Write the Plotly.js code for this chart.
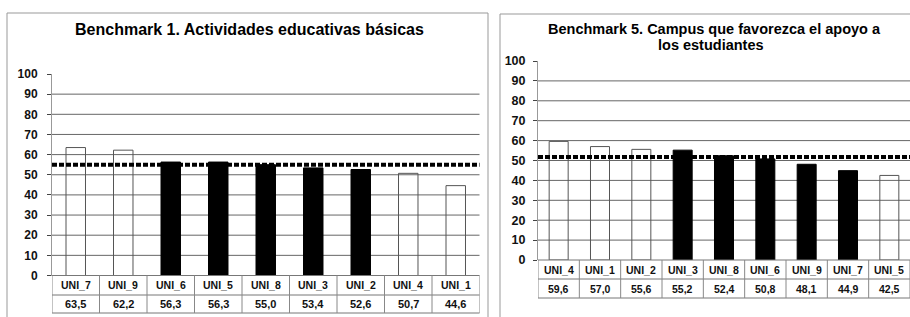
<!DOCTYPE html>
<html>
<head>
<meta charset="utf-8">
<script src="https://cdn.plot.ly/plotly-3.0.1.min.js"></script>
<style>html,body{margin:0;padding:0;background:#fff;} #chart{width:910px;height:317px;}</style>
</head>
<body>
<div id="chart"></div>
<script>
// ---- data ----
const leftTitle = 'Benchmark 1. Actividades educativas básicas';
const leftCategories = ['UNI_7','UNI_9','UNI_6','UNI_5','UNI_8','UNI_3','UNI_2','UNI_4','UNI_1'];
const leftValues = [63.5, 62.2, 56.3, 56.3, 55.0, 53.4, 52.6, 50.7, 44.6];
const leftHighlighted = ['UNI_6','UNI_5','UNI_8','UNI_3','UNI_2'];
const leftReference = 55.0;

const rightTitleLines = ['Benchmark 5. Campus que favorezca el apoyo a', 'los estudiantes'];
const rightCategories = ['UNI_4','UNI_1','UNI_2','UNI_3','UNI_8','UNI_6','UNI_9','UNI_7','UNI_5'];
const rightValues = [59.6, 57.0, 55.6, 55.2, 52.4, 50.8, 48.1, 44.9, 42.5];
const rightHighlighted = ['UNI_3','UNI_8','UNI_6','UNI_9','UNI_7'];
const rightReference = 51.8;

const yTicks = [0,10,20,30,40,50,60,70,80,90,100];
const gridValues = [10,20,30,40,50,60,70,80,90];

// ---- layout helpers ----
const W = 910, H = 317;
const px = x => x / W;
const py = y => 1 - y / H;
const FONT = 'Liberation Sans, Arial, sans-serif';
const fmt = v => v.toFixed(1).replace('.', ',');

function barTrace(cats, vals, hl, xa, ya, width) {
  return {
    type: 'bar', x: cats, y: vals, xaxis: xa, yaxis: ya, width: width,
    marker: {
      color: cats.map(c => hl.includes(c) ? '#000000' : 'rgba(255,255,255,0)'),
      line: { color: cats.map(c => hl.includes(c) ? '#000000' : '#555555'), width: 1 }
    },
    hoverinfo: 'skip', showlegend: false
  };
}

const shapes = [];
const annotations = [];

function chartExtras(cats, vals, ref, xa, ya, rowTop, rowMid, rowBot, fs) {
  const xd = xa + ' domain';
  gridValues.forEach(g => shapes.push({type:'line', xref: xd, x0:0, x1:1, yref: ya, y0:g, y1:g,
    line:{color:'#666', width:1}, layer:'below'}));
  shapes.push({type:'line', xref: xd, x0:0, x1:1, yref: ya, y0:ref, y1:ref,
    line:{color:'#000', width:4, dash:'5px,2px'}, layer:'above'});
  // table rows
  [rowTop, rowMid, rowBot].forEach(r => shapes.push({type:'line', xref: xd, x0:0, x1:1, yref:'paper',
    y0:py(r), y1:py(r), line:{color:'#777', width:1}}));
  for (let i = 0; i <= cats.length; i++) {
    shapes.push({type:'line', xref: xa, x0:i-0.5, x1:i-0.5, yref:'paper', y0:py(rowBot), y1:py(rowTop),
      line:{color:'#888', width:1}});
  }
  cats.forEach((c, i) => {
    annotations.push({xref: xa, x: c, yref:'paper', y: py((rowTop+rowMid)/2), text: c, showarrow:false,
      xanchor:'center', yanchor:'middle', font:{family:FONT, size:fs[0], weight:'bold', color:'#111'}});
    annotations.push({xref: xa, x: c, yref:'paper', y: py((rowMid+rowBot)/2), text: fmt(vals[i]), showarrow:false,
      xanchor:'center', yanchor:'middle', font:{family:FONT, size:fs[1], weight:'bold', color:'#111'}});
  });
}

chartExtras(leftCategories, leftValues, leftReference, 'x', 'y', 275.5, 295, 313, [10.5, 11]);
chartExtras(rightCategories, rightValues, rightReference, 'x2', 'y2', 260, 279, 298, [10.5, 10.5]);

// frames
shapes.push({type:'rect', xref:'paper', yref:'paper', x0:px(7), x1:px(488), y0:py(13), y1:py(340),
  line:{color:'#999', width:1}, layer:'below'});
shapes.push({type:'rect', xref:'paper', yref:'paper', x0:px(500), x1:px(940), y0:py(14), y1:py(340),
  line:{color:'#999', width:1}, layer:'below'});

// titles
annotations.push({xref:'paper', yref:'paper', x:px(249), y:py(30), text: leftTitle, showarrow:false,
  xanchor:'center', yanchor:'middle', font:{family:FONT, size:16, weight:'bold', color:'#000'}});
rightTitleLines.forEach((t, i) => annotations.push({xref:'paper', yref:'paper', x:px(714 - 3*i), y:py(29 + 16*i),
  text: t, showarrow:false, xanchor:'center', yanchor:'middle', font:{family:FONT, size:14.5, weight:'bold', color:'#000'}}));

const xCommon = {type:'category', showticklabels:false, showgrid:false, zeroline:false, showline:false, ticks:'', fixedrange:true};
const yCommon = {range:[0,100], tickvals:yTicks, ticks:'outside', ticklen:4, tickcolor:'#444', showgrid:false,
  showline:true, linecolor:'#999', linewidth:1, zeroline:false};

const layout = {
  width: W, height: H, margin:{l:0, r:0, t:0, b:0},
  paper_bgcolor:'#fff', plot_bgcolor:'rgba(0,0,0,0)', showlegend:false,
  xaxis: Object.assign({}, xCommon, {domain:[px(52), px(479.5)], anchor:'y', range:[-0.5, 8.5]}),
  yaxis: Object.assign({}, yCommon, {domain:[py(275.5), py(74)], anchor:'x', ticklabelstandoff:7,
    tickfont:{family:FONT, size:12, weight:'bold', color:'#111'}}),
  xaxis2: Object.assign({}, xCommon, {domain:[px(538), 1], anchor:'y2', range:[-0.5, 8.5]}),
  yaxis2: Object.assign({}, yCommon, {domain:[py(260), py(61)], anchor:'x2', ticklabelstandoff:5,
    tickfont:{family:FONT, size:12.5, weight:'bold', color:'#111'}}),
  shapes: shapes, annotations: annotations
};

Plotly.newPlot('chart', [
  barTrace(leftCategories, leftValues, leftHighlighted, 'x', 'y', 0.41),
  barTrace(rightCategories, rightValues, rightHighlighted, 'x2', 'y2', 0.46)
], layout, {staticPlot:true, displayModeBar:false});
</script>
</body>
</html>
